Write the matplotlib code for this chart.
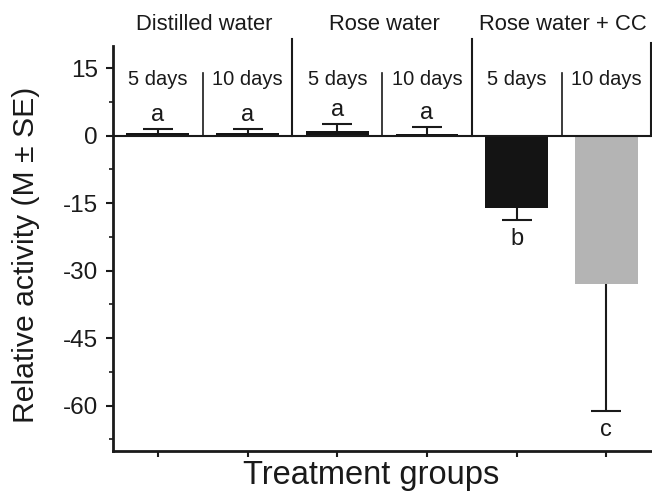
import numpy as np
import matplotlib.pyplot as plt
from matplotlib.ticker import MultipleLocator

plt.rcParams['font.family'] = ['Liberation Sans', 'DejaVu Sans']
plt.rcParams['axes.unicode_minus'] = False

groups = ['Distilled water', 'Rose water', 'Rose water + CC']
periods = ['5 days', '10 days', '5 days', '10 days', '5 days', '10 days']
values = [0.6, 0.6, 1.0, 0.3, -16.1, -33.0]
errors = [1.0, 0.9, 1.6, 1.6, 2.6, 28.2]
letters = ['a', 'a', 'a', 'a', 'b', 'c']
colors = ['#141414', '#141414', '#141414', '#141414', '#141414', '#b4b4b4']

ink = '#1a1a1a'

fig = plt.figure(figsize=(6.52, 4.93), dpi=100)
ax = fig.add_axes([0.1733, 0.0858, 0.8255, 0.8215])

x = np.arange(len(values))
ax.bar(x, values, width=0.7, color=colors, zorder=2)

# one-sided error bars, pointing away from zero, cap only at the far end
tips = [v + e if v >= 0 else v - e for v, e in zip(values, errors)]
lower = [e if v < 0 else 0 for v, e in zip(values, errors)]
upper = [e if v >= 0 else 0 for v, e in zip(values, errors)]
ax.errorbar(x, values, yerr=[lower, upper], fmt='none', ecolor=ink,
            elinewidth=1.5, capsize=0, zorder=3)
ax.plot(x, tips, ls='none', marker='_', markersize=21, markeredgewidth=1.5,
        color=ink, zorder=3)

# zero line
ax.axhline(0, color=ink, lw=1.5, zorder=4)

# header separators
for xs in [1.5, 3.5]:
    ax.plot([xs, xs], [0, 21.5], color=ink, lw=1.5, clip_on=False)
ax.plot([5.5, 5.5], [0, 20.6], color=ink, lw=1.5, clip_on=False)
for xs in [0.5, 2.5, 4.5]:
    ax.plot([xs, xs], [0, 14.0], color=ink, lw=1.2, clip_on=False)

for i, g in enumerate(groups):
    ax.text(2 * i + 0.52, 24.8, g, ha='center', va='center', fontsize=15.8,
            color=ink, clip_on=False)
for i, p in enumerate(periods):
    ax.text(i, 12.6, p, ha='center', va='center', fontsize=14.5, color=ink)

for i, (t, v, l) in enumerate(zip(tips, values, letters)):
    if v >= 0:
        ax.text(i, t + 3.1, l, ha='center', va='center', fontsize=17, color=ink)
    else:
        ax.text(i, t - 4.2, l, ha='center', va='center', fontsize=17, color=ink)

ax.set_xlim(-0.5, 5.5)
ax.set_ylim(-70, 20)
ax.set_yticks([15, 0, -15, -30, -45, -60])
ax.yaxis.set_minor_locator(MultipleLocator(7.5))
ax.set_xticks(x)
ax.set_xticklabels([])

ax.spines['top'].set_visible(False)
ax.spines['right'].set_visible(False)
for s in ['left', 'bottom']:
    ax.spines[s].set_linewidth(2)
    ax.spines[s].set_color(ink)

ax.tick_params(axis='y', which='major', direction='out', length=5, width=1.5,
               labelsize=17.5, colors=ink, pad=6)
ax.tick_params(axis='y', which='minor', direction='out', length=3, width=1.2, colors=ink)
ax.tick_params(axis='x', direction='out', length=4, width=1.5, colors=ink)

ax.set_ylabel('Relative activity (M ± SE)', fontsize=21.7, color=ink)
ax.yaxis.set_label_coords(-0.162, 0.484, transform=ax.transAxes)
ax.yaxis.label.set_va('center')
ax.set_xlabel('Treatment groups', fontsize=23.5, color=ink)
ax.xaxis.set_label_coords(0.48, -0.082, transform=ax.transAxes)
ax.xaxis.label.set_va('baseline')

fig.savefig('out.png', dpi=100)
